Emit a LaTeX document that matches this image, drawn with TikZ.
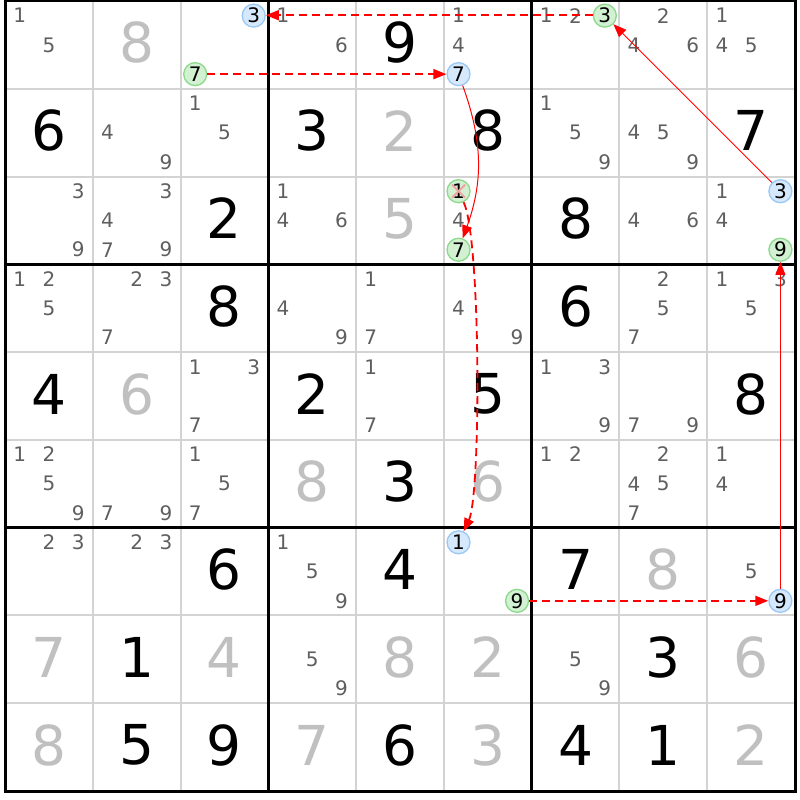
\documentclass[tikz,border=0pt]{standalone}
\usepackage{fontspec}
\setmainfont{DejaVu Sans}
\usetikzlibrary{arrows.meta}
\definecolor{candgray}{HTML}{5F5F5F}
\definecolor{solvgray}{HTML}{C0C0C0}
\definecolor{gridgray}{HTML}{D3D3D3}
\definecolor{bluefill}{HTML}{D5E8FC}
\definecolor{blueline}{HTML}{99C8F5}
\definecolor{greenfill}{HTML}{D2F0D2}
\definecolor{greenline}{HTML}{8CD98C}
\definecolor{xred}{HTML}{F4A0A0}
\definecolor{linkred}{HTML}{FF0000}
\tikzset{
  givn/.style={font=\fontsize{55}{60}\selectfont, text=black, inner sep=0pt},
  solv/.style={givn, text=solvgray},
  cand/.style={font=\fontsize{20}{22}\selectfont, text=candgray, inner sep=0pt},
  bluec/.style={circle, draw=blueline, fill=bluefill, line width=1.3pt, minimum size=23pt, inner sep=0pt, font=\fontsize{20}{22}\selectfont, text=black},
  greenc/.style={bluec, draw=greenline, fill=greenfill},
  weak/.style={draw=linkred, line width=1.8pt, dash pattern=on 8pt off 5pt, -{Triangle[length=13pt,width=10pt]}},
  strong/.style={draw=linkred, line width=1pt, -{Triangle[length=13pt,width=10pt]}},
  thinline/.style={gridgray, line width=2pt},
  boxline/.style={black, line width=3pt},
}
\newcommand\gv[3]{\node[givn] (g-#1-#2) at ({5+87.78*(#1+0.5)},{-1+87.78*(#2+0.5)}) {#3};}
\newcommand\sv[3]{\node[solv] (s-#1-#2) at ({5+87.78*(#1+0.5)},{-1+87.78*(#2+0.5)}) {#3};}
\newcommand\cd[3]{\foreach \dd in {#3}{\node[cand] (c-#1-#2-\dd) at ({5+87.78*#1+29.26*(mod(\dd-1,3)+0.5)},{1+87.78*#2+29.26*(floor((\dd-1)/3)+0.5)}) {\dd};}}
\newcommand\cc[4]{\node[#4] (c-#1-#2-#3) at ({5+87.78*#1+29.26*(mod(#3-1,3)+0.5)},{1+87.78*#2+29.26*(floor((#3-1)/3)+0.5)}) {#3};}
\begin{document}
\begin{tikzpicture}[x=1pt,y=-1pt]
\useasboundingbox (0,0) rectangle (800,800);
\fill[white] (0,0) rectangle (800,800);
% grid
\foreach \i in {1,2,4,5,7,8}{
  \draw[thinline] ({5+87.78*\i},1) -- ({5+87.78*\i},791);
  \draw[thinline] (5,{1+87.78*\i}) -- (795,{1+87.78*\i});
}
\foreach \i in {3,6}{
  \draw[boxline] ({5+87.78*\i},1) -- ({5+87.78*\i},791);
  \draw[boxline] (5,{1+87.78*\i}) -- (795,{1+87.78*\i});
}
\draw[boxline] (5,1) rectangle (795,791);
% row 0
\cd{0}{0}{1,5} \sv{1}{0}{8} \cc{2}{0}{3}{bluec} \cc{2}{0}{7}{greenc}
\cd{3}{0}{1,6} \gv{4}{0}{9} \cd{5}{0}{1,4} \cc{5}{0}{7}{bluec}
\cd{6}{0}{1,2} \cc{6}{0}{3}{greenc} \cd{7}{0}{2,4,6} \cd{8}{0}{1,4,5}
% row 1
\gv{0}{1}{6} \cd{1}{1}{4,9} \cd{2}{1}{1,5} \gv{3}{1}{3} \sv{4}{1}{2} \gv{5}{1}{8}
\cd{6}{1}{1,5,9} \cd{7}{1}{4,5,9} \gv{8}{1}{7}
% row 2
\cd{0}{2}{3,9} \cd{1}{2}{3,4,7,9} \gv{2}{2}{2} \cd{3}{2}{1,4,6} \sv{4}{2}{5}
\cc{5}{2}{1}{greenc} \cd{5}{2}{4} \cc{5}{2}{7}{greenc}
\gv{6}{2}{8} \cd{7}{2}{4,6} \cd{8}{2}{1,4} \cc{8}{2}{3}{bluec} \cc{8}{2}{9}{greenc}
% row 3
\cd{0}{3}{1,2,5} \cd{1}{3}{2,3,7} \gv{2}{3}{8} \cd{3}{3}{4,9} \cd{4}{3}{1,7} \cd{5}{3}{4,9}
\gv{6}{3}{6} \cd{7}{3}{2,5,7} \cd{8}{3}{1,3,5}
% row 4
\gv{0}{4}{4} \sv{1}{4}{6} \cd{2}{4}{1,3,7} \gv{3}{4}{2} \cd{4}{4}{1,7} \gv{5}{4}{5}
\cd{6}{4}{1,3,9} \cd{7}{4}{7,9} \gv{8}{4}{8}
% row 5
\cd{0}{5}{1,2,5,9} \cd{1}{5}{7,9} \cd{2}{5}{1,5,7} \sv{3}{5}{8} \gv{4}{5}{3} \sv{5}{5}{6}
\cd{6}{5}{1,2} \cd{7}{5}{2,4,5,7} \cd{8}{5}{1,4}
% row 6
\cd{0}{6}{2,3} \cd{1}{6}{2,3} \gv{2}{6}{6} \cd{3}{6}{1,5,9} \gv{4}{6}{4}
\cc{5}{6}{1}{bluec} \cc{5}{6}{9}{greenc}
\gv{6}{6}{7} \sv{7}{6}{8} \cd{8}{6}{5} \cc{8}{6}{9}{bluec}
% row 7
\sv{0}{7}{7} \gv{1}{7}{1} \sv{2}{7}{4} \cd{3}{7}{5,9} \sv{4}{7}{8} \sv{5}{7}{2}
\cd{6}{7}{5,9} \gv{7}{7}{3} \sv{8}{7}{6}
% row 8
\sv{0}{8}{8} \gv{1}{8}{5} \gv{2}{8}{9} \sv{3}{8}{7} \gv{4}{8}{6} \sv{5}{8}{3}
\gv{6}{8}{4} \gv{7}{8}{1} \sv{8}{8}{2}
% elimination mark
\draw[xred, line width=1.8pt] ([shift={(-6.5,-6.5)}]c-5-2-1.center) -- ([shift={(6.5,6.5)}]c-5-2-1.center);
\draw[xred, line width=1.8pt] ([shift={(-6.5,6.5)}]c-5-2-1.center) -- ([shift={(6.5,-6.5)}]c-5-2-1.center);
% chain
\draw[weak] (c-2-0-7) -- (c-5-0-7);
\draw[weak] ([yshift=0.4pt]c-6-0-3.west) -- ([yshift=0.4pt]c-2-0-3.east);
\draw[strong] (c-5-0-7) to[bend left=20] (c-5-2-7);
\draw[weak] (c-5-2-1) to[out=-65, in=65, looseness=0.32] (c-5-6-1);
\draw[weak] (c-5-6-9) -- (c-8-6-9);
\draw[strong] (c-8-6-9) -- (c-8-2-9);
\draw[strong] (c-8-2-3) -- (c-6-0-3);
\end{tikzpicture}
\end{document}
